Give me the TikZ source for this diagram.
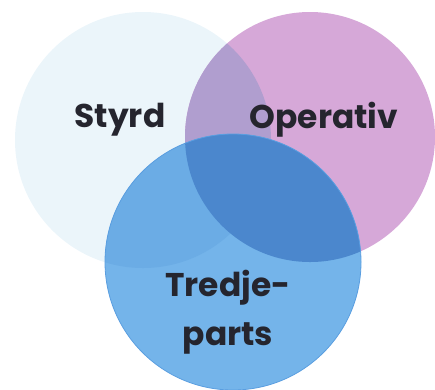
\documentclass[tikz,border=0pt]{standalone}
\usepackage{fontspec}
\setmainfont{Poppins}
\definecolor{cL}{HTML}{EBF5FA}
\definecolor{cR}{HTML}{D6A8D8}
\definecolor{cLR}{HTML}{B09ECF}
\definecolor{cB}{HTML}{74B4EA}
\definecolor{cBline}{HTML}{5A9EE0}
\definecolor{cLB}{HTML}{6BACE5}
\definecolor{cRB}{HTML}{4B87CD}
\definecolor{txt}{HTML}{25252E}
\begin{document}
\begin{tikzpicture}[x=1bp,y=-1bp,
  lbl/.style={font=\bfseries\fontsize{33}{49}\selectfont, text=txt, align=center, inner sep=0pt}]
\useasboundingbox (0,0) rectangle (435,389);
\coordinate (L) at (143,140);
\coordinate (R) at (310,137);
\coordinate (B) at (233,262);
\def\rL{128bp}\def\rR{125bp}\def\rB{128bp}
\fill[cL] (L) circle[radius=\rL];
\fill[cR] (R) circle[radius=\rR];
\begin{scope}\clip (L) circle[radius=\rL]; \fill[cLR] (R) circle[radius=\rR];\end{scope}
\fill[cB] (B) circle[radius=\rB];
\begin{scope}\clip (B) circle[radius=\rB]; \fill[cLB] (L) circle[radius=\rL];\end{scope}
\begin{scope}\clip (B) circle[radius=\rB]; \fill[cRB] (R) circle[radius=\rR];\end{scope}
\draw[cBline, line width=0.8bp] (B) circle[radius=\rB];
\node[lbl] (styrd) at (120,120) {Styrd};
\node[lbl] (oper) at (324,120) {Operativ};
\node[lbl] (tre) at (228,312) {Tredje-\\parts};
\end{tikzpicture}
\end{document}
